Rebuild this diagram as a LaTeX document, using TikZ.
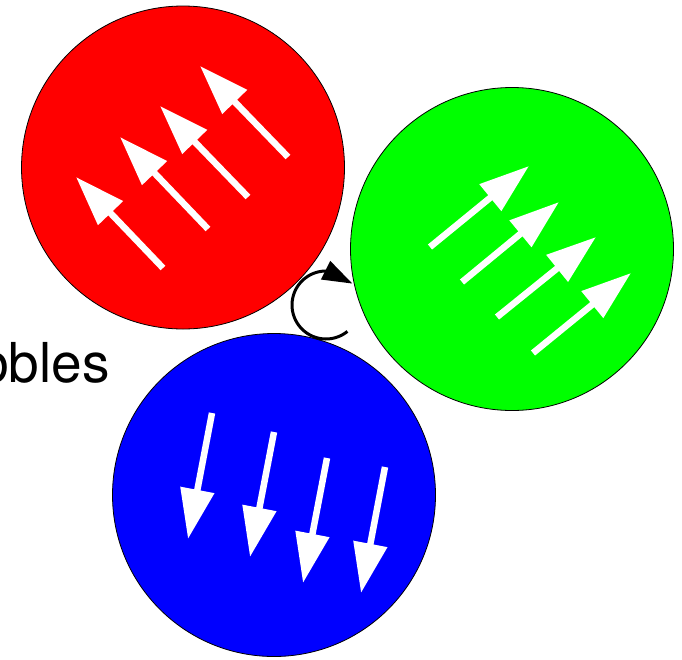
\documentclass[tikz,border=0pt]{standalone}
\usepackage{fontspec}
\setmainfont{TeX Gyre Heros}
\usetikzlibrary{arrows.meta,bending}
\definecolor{redfill}{RGB}{255,0,0}
\definecolor{greenfill}{RGB}{0,255,0}
\definecolor{bluefill}{RGB}{0,0,255}
\begin{document}
\begin{tikzpicture}[x=1pt,y=-1pt,
  ball/.style={circle, draw=black, line width=0.8pt, minimum size=323pt, inner sep=0pt},
  spin/.style={draw=white, line width=6.5pt, -{Triangle[length=50pt,width=33pt]}},
  rot/.style={draw=black, line width=3pt, -{Triangle[length=30pt,width=20pt,flex]}},
  lbl/.style={anchor=base east, inner sep=0pt, font=\fontsize{55}{60}\selectfont}]
\useasboundingbox (0,0) rectangle (682,659);
\node[ball, fill=redfill] (red) at (183,167.5) {};
\node[ball, fill=greenfill] (green) at (512,249) {};
\node[ball, fill=bluefill] (blue) at (274,495) {};
% red spins
\coordinate (r1t) at (163,268); \coordinate (r1h) at (76,177);
\coordinate (r2t) at (208,229); \coordinate (r2h) at (120,137);
\coordinate (r3t) at (248,197); \coordinate (r3h) at (160,106);
\coordinate (r4t) at (288,157); \coordinate (r4h) at (200,66);
\draw[spin] (r1t) -- (r1h);
\draw[spin] (r2t) -- (r2h);
\draw[spin] (r3t) -- (r3h);
\draw[spin] (r4t) -- (r4h);
% green spins
\coordinate (g1t) at (430,247); \coordinate (g1h) at (529,166);
\coordinate (g2t) at (462,282); \coordinate (g2h) at (559,202);
\coordinate (g3t) at (497,317); \coordinate (g3h) at (596,237);
\coordinate (g4t) at (533,353); \coordinate (g4h) at (631,273);
\draw[spin] (g1t) -- (g1h);
\draw[spin] (g2t) -- (g2h);
\draw[spin] (g3t) -- (g3h);
\draw[spin] (g4t) -- (g4h);
% blue spins
\coordinate (b1t) at (212,413); \coordinate (b1h) at (188,539);
\coordinate (b2t) at (274,432); \coordinate (b2h) at (250,557);
\coordinate (b3t) at (327,458); \coordinate (b3h) at (303,583);
\coordinate (b4t) at (385,467); \coordinate (b4h) at (361,593);
\draw[spin] (b1t) -- (b1h);
\draw[spin] (b2t) -- (b2h);
\draw[spin] (b3t) -- (b3h);
\draw[spin] (b4t) -- (b4h);
% rotation arrow
\coordinate (rc) at (326,305);
\draw[rot] ([shift={(51:34)}]rc) arc[start angle=51, end angle=321, radius=34];
% label
\node[lbl] (label) at (110,382) {bbles};
\end{tikzpicture}
\end{document}
